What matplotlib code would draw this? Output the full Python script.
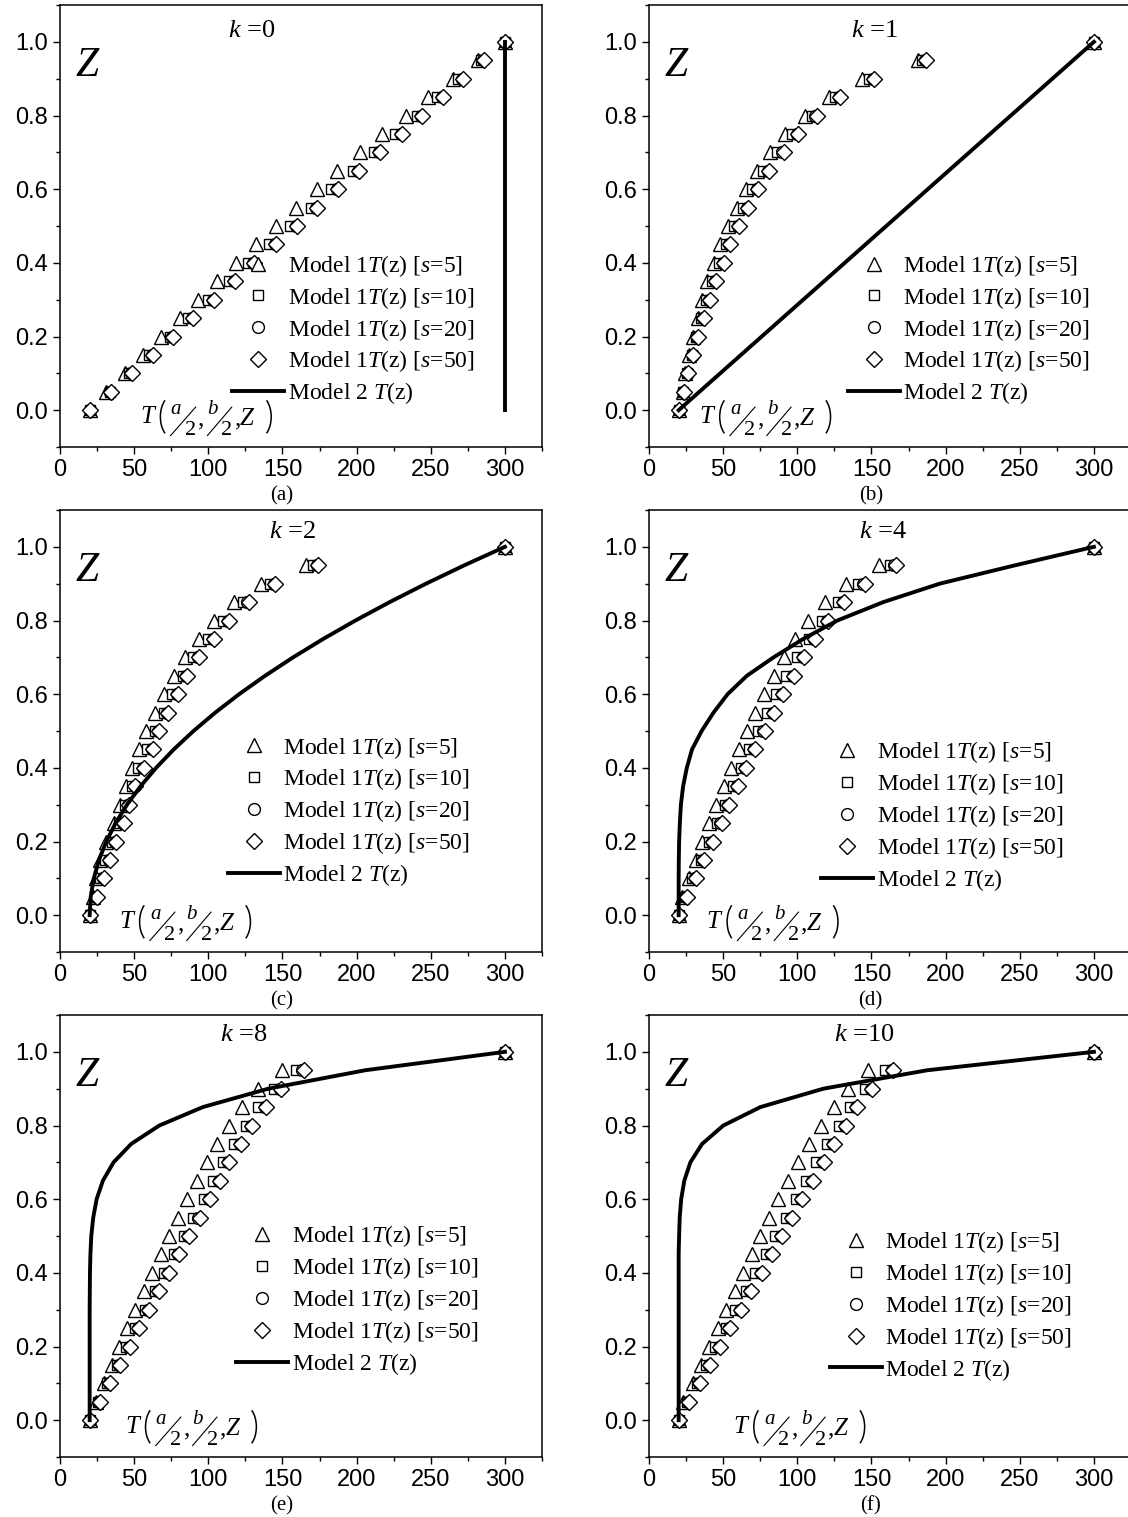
import matplotlib
matplotlib.use('Agg')
import matplotlib.pyplot as plt
from matplotlib.ticker import MultipleLocator
from matplotlib.transforms import Affine2D, ScaledTranslation
from matplotlib.patches import Arc

plt.rcParams['mathtext.fontset'] = 'custom'
plt.rcParams['mathtext.rm'] = 'Liberation Serif'
plt.rcParams['mathtext.it'] = 'Liberation Serif:italic'
plt.rcParams['mathtext.bf'] = 'Liberation Serif:bold'

# z positions (common to all panels)
Z = [0.0, 0.05, 0.1, 0.15, 0.2, 0.25, 0.3, 0.35, 0.4, 0.45, 0.5,
     0.55, 0.6, 0.65, 0.7, 0.75, 0.8, 0.85, 0.9, 0.95, 1.0]

# panel (a) k=0
k0_s5 = [20, 31, 43.7, 55.7, 68.4, 80.6, 93, 106, 119, 132, 145.7, 159, 173, 187, 202, 217, 233, 248, 265, 282, 300]
k0_s10 = [20, 33.6, 46.6, 60, 74.4, 86.4, 100, 113.7, 127, 141, 155.3, 169, 183, 197.3, 211.7, 225.6, 240.5, 254.4, 268.5, 283.7, 300]
k0_s20 = [20, 34, 48, 61.8, 75.6, 89.3, 103.3, 117, 130.2, 145, 159.3, 172.7, 187, 201, 215, 229.7, 243.5, 257.5, 271.2, 285.2, 300]
k0_s50 = [20, 34.6, 48.7, 62.4, 76.3, 90, 104, 117.8, 130.8, 145.7, 160, 173.3, 187.7, 201.6, 215.5, 230.4, 244, 258, 271.7, 285.6, 300]
k0_m2 = [300, 300, 300, 300, 300, 300, 300, 300, 300, 300, 300, 300, 300, 300, 300, 300, 300, 300, 300, 300, 300]

# panel (b) k=1
k1_s5 = [20, 22.6, 24.3, 27.3, 29.5, 32.9, 35.8, 39.2, 43.6, 48.2, 53.3, 59.4, 65.5, 73, 81.6, 92, 104.9, 121.3, 143.7, 181.4, 300]
k1_s10 = [20, 22.9, 25.6, 28.7, 31.7, 35, 38.7, 42.6, 47.5, 51.9, 57.2, 63.3, 69.6, 77.2, 86.4, 96.2, 109.6, 125.4, 148.5, 183.8, 300]
k1_s20 = [20, 23.2, 26, 29.6, 32.6, 36.5, 40.4, 44.5, 49.8, 54.2, 59.8, 66, 72.6, 80.3, 90, 99.8, 112.2, 127.9, 151, 186.3, 300]
k1_s50 = [20, 23.4, 26.3, 30, 33, 37, 41, 45, 50.4, 54.8, 60.4, 66.7, 73.3, 81, 90.8, 100.6, 113, 128.8, 152, 187, 300]
k1_m2 = [20, 34, 48, 62, 76, 90, 104, 118, 132, 146, 160, 174, 188, 202, 216, 230, 244, 258, 272, 286, 300]

# panel (c) k=2
k2_s5 = [20, 22, 24, 27, 31, 36.5, 40.3, 44.2, 48.5, 53.5, 58.3, 64, 69.8, 76.6, 84.2, 93.6, 104, 117.6, 135.6, 166, 300]
k2_s10 = [20, 23.5, 27, 30.5, 35, 40, 43.7, 48.5, 52.8, 58.8, 64, 70, 75.4, 82.8, 89.8, 100, 110.2, 123.4, 141.6, 170.9, 300]
k2_s20 = [20, 24.6, 29.3, 33, 37.4, 42.6, 46.1, 50.4, 56.3, 61.8, 66.4, 72.4, 79, 85.2, 92.8, 102.9, 113, 126.4, 144.2, 173, 300]
k2_s50 = [20, 25, 29.8, 33.4, 37.9, 43.2, 46.6, 50.9, 56.9, 62.4, 67, 73, 79.7, 85.9, 93.6, 103.7, 113.8, 127.2, 145, 173.8, 300]
k2_m2 = [20, 20.7, 22.8, 26.3, 31.2, 37.5, 45.2, 54.3, 64.8, 76.7, 90, 104.7, 120.8, 138.3, 157.2, 177.5, 199.2, 222.3, 246.8, 272.7, 300]

# panel (d) k=4
k4_s5 = [20, 22, 26.8, 31.4, 36, 40.4, 45.5, 50.4, 55.5, 60.6, 66.2, 71.8, 77.7, 84, 90.8, 98.4, 107.4, 118.6, 132.9, 155.1, 300]
k4_s10 = [20, 24.3, 29.2, 34.8, 40.2, 45.8, 51.1, 56.5, 62, 67.4, 73.5, 79.6, 85.7, 92.5, 99.8, 107.9, 116.4, 127.3, 141.2, 162.4, 300]
k4_s20 = [20, 25.2, 30.8, 36.4, 42.4, 48.2, 53.1, 59.2, 64.8, 70.6, 77.2, 83.3, 89.9, 96.9, 103.8, 111, 119.7, 130.9, 144.6, 165.5, 300]
k4_s50 = [20, 25.6, 31.4, 37, 43.1, 48.9, 53.8, 59.9, 65.5, 71.3, 77.9, 84, 90.6, 97.6, 104.5, 111.8, 120.5, 131.7, 145.4, 166.3, 300]
k4_m2 = [20, 20, 20, 20.1, 20.3, 20.8, 21.5, 23, 25.5, 29, 35.5, 43.5, 53, 66, 84, 104, 127, 158, 196, 247, 300]

# panel (e) k=8
k8_s5 = [20, 24, 30, 35.3, 40.1, 45.4, 50.9, 56.4, 62.2, 67.9, 73.4, 79.4, 85.7, 92.2, 98.9, 106.1, 113.8, 122.9, 133.2, 150, 300]
k8_s10 = [20, 25.7, 31.7, 38.4, 44.4, 50.9, 57.1, 63.8, 70.1, 76.8, 83.3, 89.8, 97, 103.2, 110.2, 117.4, 125.3, 133.7, 144.5, 159.4, 300]
k8_s20 = [20, 26.6, 33.3, 40, 46.3, 52.8, 59.5, 66.3, 73, 79.7, 86.2, 93.3, 100.3, 107, 113.4, 121.1, 128.6, 138.2, 148.4, 163.2, 300]
k8_s50 = [20, 26.9, 33.8, 40.6, 47, 53.5, 60.2, 67, 73.7, 80.4, 86.9, 94.1, 101, 107.8, 114.2, 121.9, 129.4, 139, 149.3, 164.2, 300]
k8_m2 = [20, 20, 20, 20, 20, 20, 20, 20.1, 20.2, 20.5, 21.1, 22.4, 24.7, 28.9, 36.1, 48, 67, 96.3, 140.5, 205.8, 300]

# panel (f) k=10
k10_s5 = [20, 23, 29.5, 35.3, 40.7, 46.3, 51.9, 57.7, 63.5, 69.2, 75, 81.1, 87.2, 93.7, 100.6, 107.9, 115.7, 124.7, 134.4, 148, 300]
k10_s10 = [20, 25.6, 32.4, 38.5, 44.6, 51.6, 58.2, 65.3, 71.8, 78.6, 85.2, 92.6, 98.9, 105.9, 112.8, 120.1, 127.8, 135.6, 145.6, 159, 300]
k10_s20 = [20, 26.5, 33.6, 40.3, 47.5, 54.1, 61.4, 68.2, 75.2, 82.1, 88.9, 96, 102.8, 110.1, 117.4, 124.2, 132, 139.3, 149.5, 163.6, 300]
k10_s50 = [20, 26.8, 34.1, 40.9, 48.2, 54.8, 62.1, 68.9, 75.9, 82.8, 89.6, 96.7, 103.5, 110.8, 118.1, 124.9, 132.7, 140, 150.2, 164.4, 300]
k10_m2 = [20, 20, 20, 20, 20, 20, 20, 20, 20, 20, 20.3, 20.7, 21.7, 23.8, 27.9, 35.8, 50.1, 75.1, 117.6, 187.6, 300]

k_labels = ['0', '1', '2', '4', '8', '10']
panel_tags = ['(a)', '(b)', '(c)', '(d)', '(e)', '(f)']
s_labels = ['5', '10', '20', '50']

panels = [
    (k0_s5, k0_s10, k0_s20, k0_s50, k0_m2),
    (k1_s5, k1_s10, k1_s20, k1_s50, k1_m2),
    (k2_s5, k2_s10, k2_s20, k2_s50, k2_m2),
    (k4_s5, k4_s10, k4_s20, k4_s50, k4_m2),
    (k8_s5, k8_s10, k8_s20, k8_s50, k8_m2),
    (k10_s5, k10_s10, k10_s20, k10_s50, k10_m2),
]

# placement of legend / labels in data units
leg_x = [134, 152, 131, 134, 137, 140]
leg_z = [0.392, 0.392, 0.455, 0.442, 0.499, 0.483]
k_pos = [(129, 1.03), (152, 1.03), (157, 1.04), (158, 1.04), (124, 1.045), (145, 1.045)]
t_left = [54, 34, 40, 39, 44, 57]

# pieces of T(a/2, b/2, Z): text, dx, dy (points), size, style
t_pieces = [
    ('T', 0, 0, 18, 'italic'),
    ('a', 22.0, 6.5, 15, 'italic'),
    ('2', 32.0, -8.5, 16, 'normal'),
    (',', 42.0, -2.0, 18, 'normal'),
    ('b', 48.5, 6.5, 15, 'italic'),
    ('2', 58.5, -8.5, 16, 'normal'),
    (',', 68.0, -2.0, 18, 'normal'),
    ('Z', 72.0, -1.5, 18, 'italic'),
]
t_slashes = [((22.0, -9.0), (40.0, 11.5)), ((48.5, -9.0), (66.0, 11.5))]


def draw_t_expr(ax, x, z):
    tr = Affine2D().scale(fig.dpi / 72.0) + ScaledTranslation(x, z, ax.transData)
    for s, dx, dy, size, style in t_pieces:
        ax.text(dx, dy, s, transform=tr, fontsize=size, fontstyle=style,
                family='Liberation Serif', ha='left', va='baseline')
    for p0, p1 in t_slashes:
        ax.plot([p0[0], p1[0]], [p0[1], p1[1]], transform=tr, color='black', lw=0.8)
    # tall thin parentheses
    ax.add_patch(Arc((24.0, 4.5), 18.8, 31.0, theta1=117, theta2=243, transform=tr,
                     color='black', lw=1.1))
    ax.add_patch(Arc((85.0, 4.5), 18.8, 31.0, theta1=-63, theta2=63, transform=tr,
                     color='black', lw=1.1))


W, H = 1128, 1517
fig = plt.figure(figsize=(W / 100, H / 100), dpi=100)

lefts = [60, 649]
tops = [5, 510, 1015]
aw, ah = 482, 442

markers = [('^', 10), ('s', 7.5), ('o', 8.5), ('D', 8.5)]

for i, data in enumerate(panels):
    col = i % 2
    row = i // 2
    ax = fig.add_axes([lefts[col] / W, 1 - (tops[row] + ah) / H, aw / W, ah / H])
    handles = []
    for j in range(4):
        m, ms = markers[j]
        h, = ax.plot(data[j], Z, linestyle='none', marker=m, ms=ms, mfc='white',
                     mec='black', mew=1.0, zorder=2 + j * 0.1,
                     label=r'Model 1$\mathit{T(}$z$\mathit{)}$ [$\mathit{s}$=$\mathit{' + s_labels[j] + '}$]')
        handles.append(h)
    h2, = ax.plot(data[4], Z, color='black', lw=2.8, zorder=3,
                  label=r'Model 2 $\mathit{T(}$z$\mathit{)}$')
    handles.append(h2)

    ax.xaxis.set_major_locator(MultipleLocator(50))
    ax.xaxis.set_minor_locator(MultipleLocator(25))
    ax.yaxis.set_major_locator(MultipleLocator(0.2))
    ax.yaxis.set_minor_locator(MultipleLocator(0.1))
    ax.tick_params(which='both', direction='out', width=1, labelsize=17)
    ax.tick_params(which='major', length=5)
    ax.tick_params(which='minor', length=3)
    ax.set_yticks([0.0, 0.2, 0.4, 0.6, 0.8, 1.0])
    ax.set_yticklabels(['0.0', '0.2', '0.4', '0.6', '0.8', '1.0'], family='Liberation Sans')
    ax.set_xticks([0, 50, 100, 150, 200, 250, 300])
    ax.set_xticklabels(['0', '50', '100', '150', '200', '250', '300'], family='Liberation Sans')
    for sp in ax.spines.values():
        sp.set_linewidth(1.1)

    x_left = leg_x[i] - 18
    ax.legend(handles=handles, loc='upper left', frameon=False,
              bbox_to_anchor=(x_left, leg_z[i] + 0.035), bbox_transform=ax.transData,
              borderpad=0, borderaxespad=0, handlelength=2.2, handletextpad=0.15,
              labelspacing=0.25, prop={'family': 'Liberation Serif', 'size': 17})

    ax.text(k_pos[i][0], k_pos[i][1], r'$k$ =$\mathit{' + k_labels[i] + '}$', ha='center', va='center',
            fontsize=19, family='Liberation Serif')
    ax.text(18, 0.935, 'Z', ha='center', va='center', fontsize=30,
            family='Liberation Serif', fontstyle='italic')
    draw_t_expr(ax, t_left[i], -0.035)
    ax.text(0.46, -0.11, panel_tags[i], transform=ax.transAxes, ha='center', va='center',
            fontsize=15, family='Liberation Serif')

    ax.set_xlim(0, 325)
    ax.set_ylim(-0.1, 1.1)

fig.savefig('out.png', dpi=100)
